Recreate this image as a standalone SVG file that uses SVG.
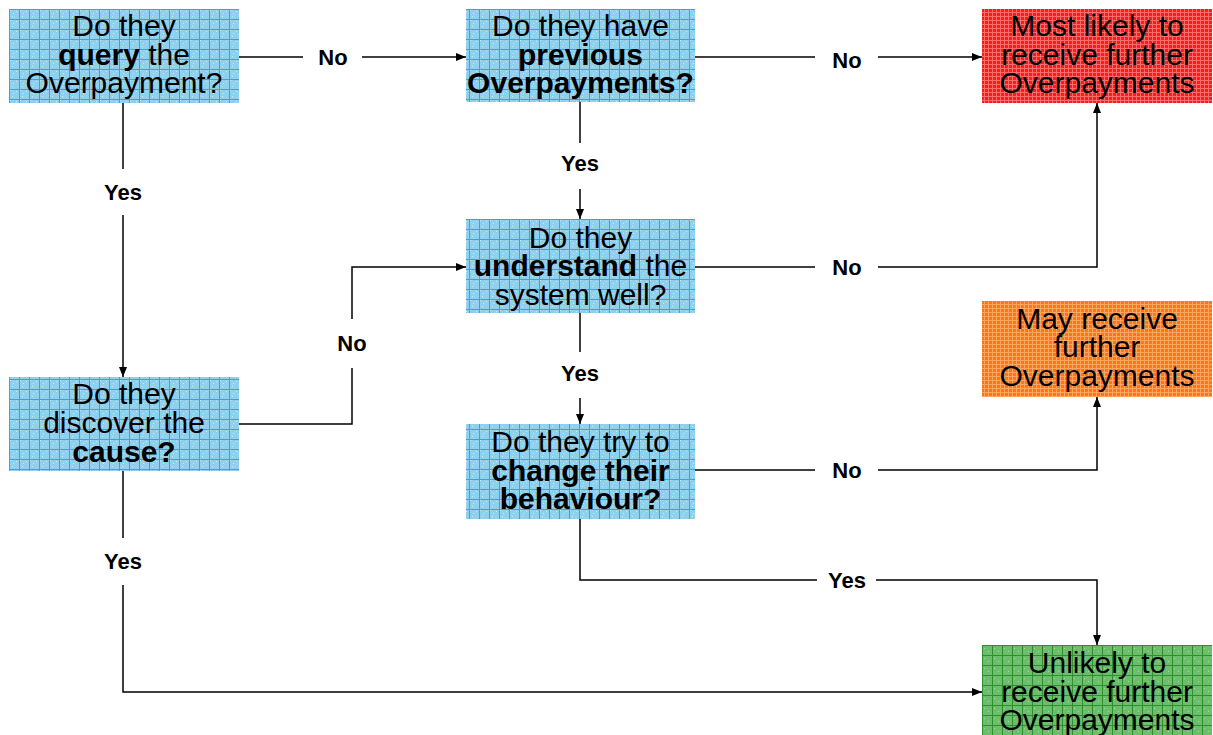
<svg xmlns="http://www.w3.org/2000/svg" width="1213" height="735" viewBox="0 0 1213 735">
  <defs>
    <!-- graph-paper fills -->
    <pattern id="gridBlue" width="10" height="10" patternUnits="userSpaceOnUse" x="9" y="9">
      <rect width="10" height="10" fill="#8fd1ec"/>
      <rect x="1" y="1" width="1" height="1" fill="#c8eaf7"/>
      <rect x="4" y="4" width="1" height="1" fill="#c8eaf7"/>
      <rect x="7" y="2" width="1" height="1" fill="#c8eaf7"/>
      <rect x="3" y="7" width="1" height="1" fill="#c8eaf7"/>
      <path d="M0 0.5H10M0.5 0V10" stroke="#35a8d8" stroke-width="1"/>
    </pattern>
    <pattern id="gridRed" width="4" height="4" patternUnits="userSpaceOnUse">
      <rect width="4" height="4" fill="#fa1c1c"/>
      <path d="M0 0.5H4M0.5 0V4" stroke="#ff6a6a" stroke-width="1"/>
    </pattern>
    <pattern id="gridOrange" width="4" height="4" patternUnits="userSpaceOnUse">
      <rect width="4" height="4" fill="#ff7418"/>
      <path d="M0 0.5H4M0.5 0V4" stroke="#ffa560" stroke-width="1"/>
    </pattern>
    <pattern id="gridGreen" width="10" height="10" patternUnits="userSpaceOnUse" x="982" y="645">
      <rect width="10" height="10" fill="#6cbe6c"/>
      <rect x="2" y="3" width="1" height="1" fill="#a6dba6"/>
      <rect x="6" y="6" width="1" height="1" fill="#a6dba6"/>
      <path d="M0 0.5H10M0.5 0V10" stroke="#2f8f2f" stroke-width="1"/>
    </pattern>
    <marker id="arrow" viewBox="0 0 10 10" refX="10" refY="5" markerWidth="10" markerHeight="10" markerUnits="userSpaceOnUse" orient="auto">
      <path d="M0 1L10 5L0 9Z" fill="#000"/>
    </marker>
    <style>
      .box text { font-family: "Liberation Sans", Arial, sans-serif; font-size: 30px; fill: #000; text-anchor: middle; }
      .b { font-weight: bold; }
      .wire { fill: none; stroke: #000; stroke-width: 1.5; }
      .lbl { font-family: "Liberation Sans", Arial, sans-serif; font-size: 22px; font-weight: bold; fill: #000; text-anchor: middle; }
    </style>
  </defs>

  <rect width="1213" height="735" fill="#fff"/>

  <!-- connectors -->
  <g id="connectors">
    <!-- query -> previous (No) -->
    <path class="wire" d="M239 57H303"/>
    <path class="wire" d="M362 57H466" marker-end="url(#arrow)"/>
    <!-- previous -> most likely (No) -->
    <path class="wire" d="M695 57H815"/>
    <path class="wire" d="M878 57H982" marker-end="url(#arrow)"/>
    <!-- previous -> understand (Yes) -->
    <path class="wire" d="M580 102V143"/>
    <path class="wire" d="M580 189V219" marker-end="url(#arrow)"/>
    <!-- understand -> most likely (No) -->
    <path class="wire" d="M695 267H815"/>
    <path class="wire" d="M878 267H1097V103" marker-end="url(#arrow)"/>
    <!-- understand -> change (Yes) -->
    <path class="wire" d="M580 313V352"/>
    <path class="wire" d="M580 398V424" marker-end="url(#arrow)"/>
    <!-- change -> may receive (No) -->
    <path class="wire" d="M695 470H815"/>
    <path class="wire" d="M878 470H1097V397" marker-end="url(#arrow)"/>
    <!-- change -> unlikely (Yes) -->
    <path class="wire" d="M580 519V580H817"/>
    <path class="wire" d="M876 580H1097V645" marker-end="url(#arrow)"/>
    <!-- query -> discover (Yes) -->
    <path class="wire" d="M123 103V169"/>
    <path class="wire" d="M123 215V377" marker-end="url(#arrow)"/>
    <!-- discover -> understand (No) -->
    <path class="wire" d="M239 424H352V368"/>
    <path class="wire" d="M352 319V267H466" marker-end="url(#arrow)"/>
    <!-- discover -> unlikely (Yes) -->
    <path class="wire" d="M123 471V538"/>
    <path class="wire" d="M123 585V692H982" marker-end="url(#arrow)"/>

    <text class="lbl" x="333" y="65">No</text>
    <text class="lbl" x="847" y="68">No</text>
    <text class="lbl" x="580" y="171">Yes</text>
    <text class="lbl" x="847" y="275">No</text>
    <text class="lbl" x="580" y="381">Yes</text>
    <text class="lbl" x="847" y="478">No</text>
    <text class="lbl" x="847" y="588">Yes</text>
    <text class="lbl" x="123" y="200">Yes</text>
    <text class="lbl" x="352" y="351">No</text>
    <text class="lbl" x="123" y="569">Yes</text>
  </g>

  <!-- decision nodes -->
  <g id="query" class="box">
    <rect x="9" y="9" width="230" height="94" fill="url(#gridBlue)"/>
    <text x="124" y="35.5">Do they</text>
    <text x="124" y="64.5"><tspan class="b">query</tspan> the</text>
    <text x="124" y="93">Overpayment?</text>
  </g>

  <g id="previous" class="box">
    <rect x="466" y="9" width="229" height="93" fill="url(#gridBlue)"/>
    <text x="580.5" y="35.5">Do they have</text>
    <text x="580.5" y="64.5" class="b">previous</text>
    <text x="580.5" y="93" class="b">Overpayments?</text>
  </g>

  <g id="understand" class="box">
    <rect x="466" y="219" width="229" height="94" fill="url(#gridBlue)"/>
    <text x="580.5" y="247.5">Do they</text>
    <text x="580.5" y="276"><tspan class="b">understand</tspan> the</text>
    <text x="580.5" y="304.5">system well?</text>
  </g>

  <g id="discover" class="box">
    <rect x="9" y="377" width="230" height="94" fill="url(#gridBlue)"/>
    <text x="124" y="404">Do they</text>
    <text x="124" y="433">discover the</text>
    <text x="124" y="461.5" class="b">cause?</text>
  </g>

  <g id="change" class="box">
    <rect x="466" y="424" width="229" height="95" fill="url(#gridBlue)"/>
    <text x="580.5" y="452">Do they try to</text>
    <text x="580.5" y="480.5" class="b">change their</text>
    <text x="580.5" y="508.5" class="b">behaviour?</text>
  </g>

  <!-- outcome nodes -->
  <g id="most-likely" class="box">
    <rect x="982" y="9" width="230" height="94" fill="url(#gridRed)"/>
    <text x="1097" y="35.5">Most likely to</text>
    <text x="1097" y="64.5">receive further</text>
    <text x="1097" y="93">Overpayments</text>
  </g>

  <g id="may-receive" class="box">
    <rect x="982" y="301" width="230" height="96" fill="url(#gridOrange)"/>
    <text x="1097" y="328.5">May receive</text>
    <text x="1097" y="357">further</text>
    <text x="1097" y="385.5">Overpayments</text>
  </g>

  <g id="unlikely" class="box">
    <rect x="982" y="645" width="230" height="96" fill="url(#gridGreen)"/>
    <text x="1097" y="673">Unlikely to</text>
    <text x="1097" y="701.5">receive further</text>
    <text x="1097" y="730">Overpayments</text>
  </g>
</svg>
